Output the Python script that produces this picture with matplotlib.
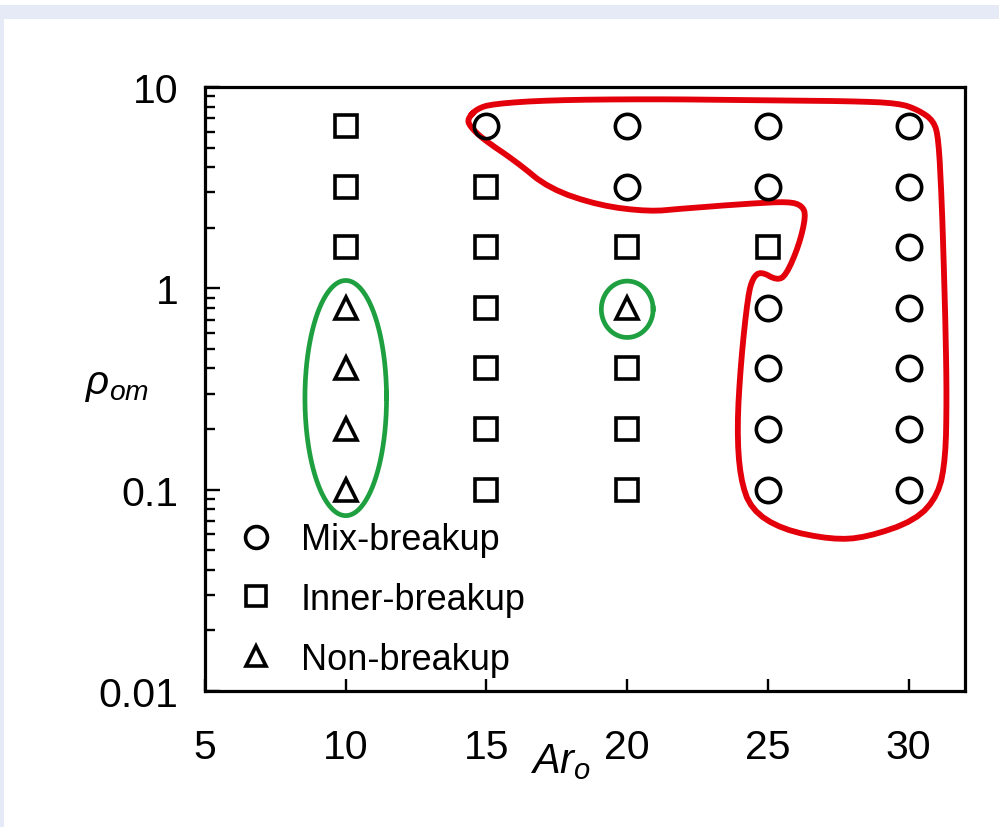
import numpy as np
import matplotlib
matplotlib.use("Agg")
import matplotlib.pyplot as plt
from matplotlib.patches import Rectangle

plt.rcParams['font.family'] = ['Liberation Sans', 'DejaVu Sans']
plt.rcParams['mathtext.fontset'] = 'custom'
plt.rcParams['mathtext.it'] = 'Liberation Sans:italic'
plt.rcParams['mathtext.rm'] = 'Liberation Sans'

# ---- data ----
mix_x = [15, 20, 20, 25, 25, 25, 25, 25, 25, 30, 30, 30, 30, 30, 30, 30]
mix_y = [6.4, 6.4, 3.2, 6.4, 3.2, 0.8, 0.4, 0.2, 0.1, 6.4, 3.2, 1.6, 0.8, 0.4, 0.2, 0.1]
inner_x = [10, 10, 10, 15, 15, 15, 15, 15, 15, 20, 20, 20, 20, 25]
inner_y = [6.4, 3.2, 1.6, 3.2, 1.6, 0.8, 0.4, 0.2, 0.1, 1.6, 0.4, 0.2, 0.1, 1.6]
non_x = [10, 10, 10, 10, 20]
non_y = [0.8, 0.4, 0.2, 0.1, 0.8]

x_ticks = [5, 10, 15, 20, 25, 30]
y_ticks = [0.01, 0.1, 1, 10]
y_ticklabels = ["0.01", "0.1", "1", "10"]

# hand-drawn annotation outline (Ar, log10 rho)
red_outline = [(14.33, 0.842), (14.65, 0.891), (15.21, 0.916), (17.23, 0.935), (20.78, 0.940),
               (24.33, 0.935), (27.87, 0.930), (29.65, 0.920), (30.35, 0.885), (30.89, 0.832),
               (31.06, 0.743), (31.17, 0.446), (31.24, 0.149), (31.31, -0.198), (31.35, -0.545),
               (31.31, -0.842), (31.06, -1.025), (30.25, -1.153), (28.48, -1.238), (27.27, -1.248),
               (25.50, -1.198), (24.40, -1.099), (24.01, -0.941), (23.90, -0.693), (24.04, -0.361),
               (24.29, -0.035), (24.47, 0.054), (24.75, 0.084), (25.32, 0.040), (25.64, 0.064),
               (26.10, 0.213), (26.35, 0.361), (26.21, 0.411), (25.74, 0.431), (24.33, 0.421),
               (21.95, 0.396), (20.78, 0.381), (19.01, 0.411), (17.23, 0.495), (16.06, 0.629),
               (14.86, 0.743), (14.40, 0.807)]
# green ellipses: (center Ar, center log10 rho, half-width Ar, half-height decades)
green_ellipses = [(10, -0.545, 1.45, 0.584), (20, -0.104, 0.92, 0.14)]

# ---- figure ----
fig = plt.figure(figsize=(9.99, 8.28), dpi=100, facecolor='white')
band = '#e6eaf6'
fig.patches.append(Rectangle((0, 1 - 20/828), 1, 14/828, transform=fig.transFigure,
                             facecolor=band, edgecolor='none', zorder=0))
fig.patches.append(Rectangle((0, 0), 4/999, 1 - 6/828, transform=fig.transFigure,
                             facecolor=band, edgecolor='none', zorder=0))

ax = fig.add_axes([205/999, (828-692)/828, 760/999, 604/828])
ax.set_yscale('log')
ax.set_xlim(5, 32)
ax.set_ylim(0.01, 10)

mk = dict(linestyle='none', markerfacecolor='none', markeredgecolor='black', markeredgewidth=2.6)
ax.plot(mix_x, mix_y, marker='o', markersize=17.5, **mk, label='Mix-breakup')
ax.plot(inner_x, inner_y, marker='s', markersize=16, **mk, label='Inner-breakup')
ax.plot(non_x, non_y, marker='^', markersize=16, **mk, label='Non-breakup')

# red outline (smoothed closed curve)
pts = np.array(red_outline)
for _ in range(2):
    nxt = np.roll(pts, -1, axis=0)
    q = 0.75 * pts + 0.25 * nxt
    r = 0.25 * pts + 0.75 * nxt
    pts = np.empty((2 * len(q), 2))
    pts[0::2] = q
    pts[1::2] = r
pts = np.vstack([pts, pts[:2]])
ax.plot(pts[:, 0], 10 ** pts[:, 1], color='#e3000b', lw=4.2, solid_joinstyle='round',
        solid_capstyle='round', zorder=1)

t = np.linspace(0, 2 * np.pi, 300)
t = np.append(t, t[1:3])
for cx, cy, a, b in green_ellipses:
    ax.plot(cx + a * np.cos(t), 10 ** (cy + b * np.sin(t)), color='#1fa040', lw=3.4,
            solid_joinstyle='round', zorder=1)

for s in ax.spines.values():
    s.set_linewidth(2.3)

ax.set_xticks(x_ticks)
ax.set_xticklabels([str(v) for v in x_ticks])
ax.set_yticks(y_ticks)
ax.set_yticklabels(y_ticklabels)
ax.tick_params(axis='x', which='major', direction='in', length=9, width=1.7, pad=27,
               labelsize=29.5, top=False)
ax.tick_params(axis='x', which='minor', bottom=False, top=False)
ax.tick_params(axis='y', which='major', direction='in', length=11, width=1.7, pad=19,
               labelsize=29.5, right=False)
ax.tick_params(axis='y', which='minor', direction='in', length=7, width=1.7, right=False)

fig.text(560/999, 1 - 762/828, r'$Ar_o$', fontsize=30, ha='center', va='center')
fig.text(117/999, 1 - 385/828, r'$\rho_{om}$', fontsize=29, ha='center', va='center')

leg = ax.legend(loc='lower left', bbox_to_anchor=(0.024, 0.0), frameon=False, fontsize=26,
                handlelength=1.0, handletextpad=0.75, labelspacing=0.68, borderaxespad=0.1,
                borderpad=0.3, markerscale=0.9)

fig.savefig('out.png', dpi=100, facecolor='white')
